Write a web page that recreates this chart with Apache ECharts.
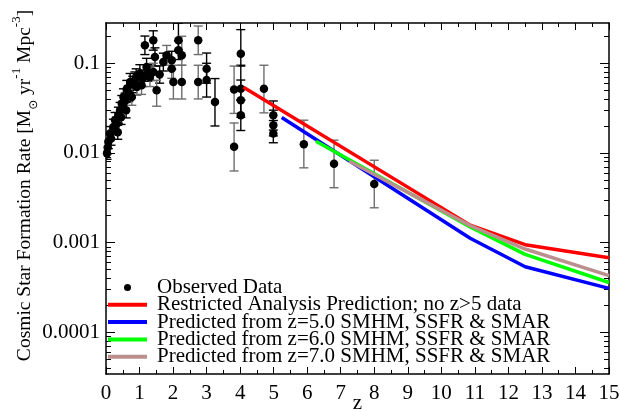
<!DOCTYPE html>
<html><head><meta charset="utf-8">
<script src="https://cdn.jsdelivr.net/npm/echarts@6/dist/echarts.min.js"></script>
<style>html,body{margin:0;padding:0;background:#fff}#c{width:620px;height:411px}</style>
</head><body><div id="c"></div>
<script>
// ---- Data ----
// Observed data, group A (black error bars): z, SFR density, lower, upper
const obsA_z   = [0.03,0.05,0.07,0.12,0.15,0.22,0.27,0.32,0.35,0.37,0.42,0.45,0.47,0.52,0.57,0.60,0.62,0.68,0.72,0.80,0.86,0.90,1.01,1.10,1.16,1.21,1.25,1.41,1.46,1.60,1.71,1.96,2.16,2.16,3.00,3.00,3.25,4.02,4.02,4.02,4.02,4.99,4.99,4.99];
const obsA_sfr = [0.0099,0.0115,0.0133,0.0165,0.0145,0.0195,0.0232,0.021,0.017,0.0264,0.030,0.025,0.0356,0.042,0.038,0.030,0.052,0.046,0.062,0.058,0.0646,0.070,0.0767,0.068,0.1585,0.091,0.078,0.180,0.1175,0.075,0.103,0.108,0.180,0.140,0.087,0.065,0.037,0.128,0.052,0.0387,0.0264,0.0264,0.0204,0.0165];
const obsA_lo  = [0.0085,0.0098,0.0112,0.0138,0.0122,0.0160,0.0190,0.0175,0.0142,0.0215,0.0246,0.0208,0.0290,0.0340,0.0310,0.0246,0.0420,0.0375,0.0500,0.0470,0.0520,0.0565,0.0610,0.0550,0.1250,0.0730,0.0630,0.1400,0.0930,0.0600,0.0820,0.0860,0.1420,0.1100,0.0600,0.0420,0.0200,0.0950,0.0390,0.0250,0.0178,0.0180,0.0155,0.0130];
const obsA_hi  = [0.0115,0.0135,0.0158,0.0197,0.0172,0.0238,0.0283,0.0252,0.0204,0.0324,0.0366,0.0300,0.0437,0.0519,0.0465,0.0366,0.0644,0.0565,0.0769,0.0716,0.0800,0.0867,0.0964,0.0840,0.2010,0.1135,0.0965,0.2300,0.1485,0.0935,0.1295,0.1360,0.2800,0.1780,0.1300,0.1000,0.0675,0.2370,0.0930,0.0650,0.0390,0.0380,0.0300,0.0230];
// Observed data, group B (grey error bars)
const obsB_z   = [0.77,0.92,1.06,1.31,1.41,1.51,1.81,1.96,2.01,2.26,2.26,2.75,2.75,3.82,3.82,4.71,5.90,6.80,8.00];
const obsB_sfr = [0.042,0.0544,0.0569,0.0704,0.080,0.050,0.1227,0.087,0.062,0.123,0.062,0.180,0.062,0.051,0.0117,0.052,0.0125,0.0076,0.0045];
const obsB_lo  = [0.034,0.044,0.045,0.055,0.064,0.0332,0.095,0.068,0.040,0.095,0.040,0.125,0.040,0.0276,0.0063,0.028,0.00683,0.0041,0.00245];
const obsB_hi  = [0.052,0.067,0.072,0.090,0.100,0.0646,0.158,0.110,0.095,0.200,0.095,0.260,0.095,0.093,0.0216,0.095,0.0232,0.0139,0.0083];

// Prediction curves
const redZ   = [4.1, 10.86, 12.5, 15];
const redSFR = [0.054, 0.00157, 0.00095, 0.00068];
const blueZ   = [5.24, 10.86, 12.5, 15];
const blueSFR = [0.0248, 0.00112, 0.00054, 0.00031];
const greenZ   = [6.26, 10.86, 12.5, 15];
const greenSFR = [0.0135, 0.00150, 0.00074, 0.00036];
const brownZ   = [7.26, 10.86, 12.5, 15];
const brownSFR = [0.0081, 0.00155, 0.00085, 0.00043];

// Axis ticks
const xTickLabels = ['0','1','2','3','4','5','6','7','8','9','10','11','12','13','14','15'];
const yTickValues = [0.0001, 0.001, 0.01, 0.1];
const yTickLabels = ['0.0001', '0.001', '0.01', '0.1'];
const yMin = 3.44e-5, yMax = 0.281;

const seriesNames = ['Observed Data','Restricted Analysis Prediction; no z>5 data','Predicted from z=5.0 SMHM, SSFR & SMAR','Predicted from z=6.0 SMHM, SSFR & SMAR','Predicted from z=7.0 SMHM, SSFR & SMAR'];

// ---- Build ----
const L = Math.log10;
const FONT = 'Liberation Serif, Times New Roman, serif';
const yMajor = yTickValues.map(L);
const yMinor = [];
for (let e = -5; e <= -1; e++) for (let k = 2; k <= 9; k++) {
  const v = L(k) + e; if (v > L(yMin) && v < L(yMax)) yMinor.push(v);
}
const pts = (zs, vs) => zs.map((z, i) => [z, L(vs[i])]);
const bars = (zs, lo, hi) => zs.map((z, i) => [z, L(lo[i]), L(hi[i])]);

function errRender(color) {
  return function (params, api) {
    const x = api.value(0);
    const a = api.coord([x, api.value(1)]);
    const b = api.coord([x, api.value(2)]);
    const w = 4.5;
    const st = { stroke: color, lineWidth: 1.4 };
    return { type: 'group', children: [
      { type: 'line', shape: { x1: a[0], y1: a[1], x2: b[0], y2: b[1] }, style: st },
      { type: 'line', shape: { x1: a[0]-w, y1: a[1], x2: a[0]+w, y2: a[1] }, style: st },
      { type: 'line', shape: { x1: b[0]-w, y1: b[1], x2: b[0]+w, y2: b[1] }, style: st }
    ]};
  };
}

const axLine = { show: true, onZero: false, lineStyle: { color: '#000', width: 1.5 } };
const noLine = { show: false, onZero: false };
function xAx(pos, major, labels) {
  return {
    type: 'value', position: pos, min: 0, max: 15, interval: 1,
    axisLine: major ? axLine : noLine,
    axisTick: major ? { show: true, inside: true, length: 7, lineStyle: { color: '#000', width: 1 } }
                    : { show: true, inside: true, length: 4, customValues: xTickLabels.slice(0, 15).map(s => +s + 0.5), lineStyle: { color: '#000', width: 1 } },
    axisLabel: labels ? { show: true, margin: 9, fontFamily: FONT, fontSize: 21, color: '#000', formatter: v => xTickLabels[Math.round(v)] } : { show: false },
    splitLine: { show: false },
    name: labels ? 'z' : '', nameLocation: 'middle', nameGap: 19, nameMoveOverlap: false,
    nameTextStyle: { fontFamily: FONT, fontSize: 21, color: '#000' }
  };
}
function yAx(pos, major, labels) {
  return {
    type: 'value', position: pos, min: L(yMin), max: L(yMax),
    axisLine: major ? axLine : noLine,
    axisTick: { show: true, inside: true, length: major ? 9 : 5, customValues: major ? yMajor : yMinor, lineStyle: { color: '#000', width: 1 } },
    axisLabel: labels ? { show: true, margin: 6, customValues: yMajor, fontFamily: FONT, fontSize: 21, color: '#000',
      formatter: v => yTickLabels[yMajor.findIndex(t => Math.abs(t - v) < 1e-6)] } : { show: false },
    splitLine: { show: false },
    name: labels ? 'Cosmic Star Formation Rate [M{sub|⊙} yr{sup|-1} Mpc{sup|-3}]' : '',
    nameLocation: 'middle', nameGap: 66, nameMoveOverlap: false,
    nameTextStyle: { fontFamily: FONT, fontSize: 19.5, color: '#000', lineHeight: 30, padding: [0, 0, 0, 26],
      rich: {
        sup: { fontFamily: FONT, fontSize: 13, lineHeight: 13, verticalAlign: 'top', color: '#000' },
        sub: { fontFamily: 'DejaVu Sans', fontSize: 12, lineHeight: 12, verticalAlign: 'bottom', color: '#000' }
      } }
  };
}

const lineSeries = (name, zs, vs, color) => ({
  name, type: 'line', data: pts(zs, vs), symbol: 'none', showSymbol: false,
  lineStyle: { color, width: 3.5 }, itemStyle: { color }, z: 3, animation: false
});
const lineIcon = 'path://M0,0 L39,0 L39,4 L0,4 Z';

const option = {
  backgroundColor: '#fff',
  animation: false,
  grid: { left: 106, right: 11, top: 23, bottom: 37, containLabel: false, outerBoundsMode: 'none' },
  xAxis: [xAx('bottom', true, true), xAx('bottom', false, false), xAx('top', true, false), xAx('top', false, false)],
  yAxis: [yAx('left', true, true), yAx('left', false, false), yAx('right', true, false), yAx('right', false, false)],
  legend: {
    orient: 'vertical', left: 108, top: 277, padding: 0, itemGap: -3.7, itemWidth: 39, itemHeight: 7,
    selectedMode: false, symbolKeepAspect: true,
    textStyle: { fontFamily: FONT, fontSize: 21, color: '#000', lineHeight: 17.5, padding: [0, 0, 0, 5] },
    data: [{ name: seriesNames[0], icon: 'circle' },
      { name: seriesNames[1], icon: lineIcon }, { name: seriesNames[2], icon: lineIcon },
      { name: seriesNames[3], icon: lineIcon }, { name: seriesNames[4], icon: lineIcon }]
  },
  series: [
    { name: 'errA', type: 'custom', clip: true, renderItem: errRender('#000'), data: bars(obsA_z, obsA_lo, obsA_hi), z: 1, silent: true },
    { name: 'errB', type: 'custom', clip: true, renderItem: errRender('#6e6e6e'), data: bars(obsB_z, obsB_lo, obsB_hi), z: 1, silent: true },
    { name: seriesNames[0], type: 'scatter', symbol: 'circle', symbolSize: 8.5, itemStyle: { color: '#000', opacity: 1 },
      data: pts(obsA_z, obsA_sfr).concat(pts(obsB_z, obsB_sfr)), z: 2, clip: true },
    lineSeries(seriesNames[1], redZ, redSFR, '#ff0000'),
    lineSeries(seriesNames[2], blueZ, blueSFR, '#0000ff'),
    lineSeries(seriesNames[3], greenZ, greenSFR, '#00ff00'),
    lineSeries(seriesNames[4], brownZ, brownSFR, '#bc8f8f')
  ]
};
const chart = echarts.init(document.getElementById('c'), null, { renderer: 'canvas' });
chart.setOption(option);
</script></body></html>
